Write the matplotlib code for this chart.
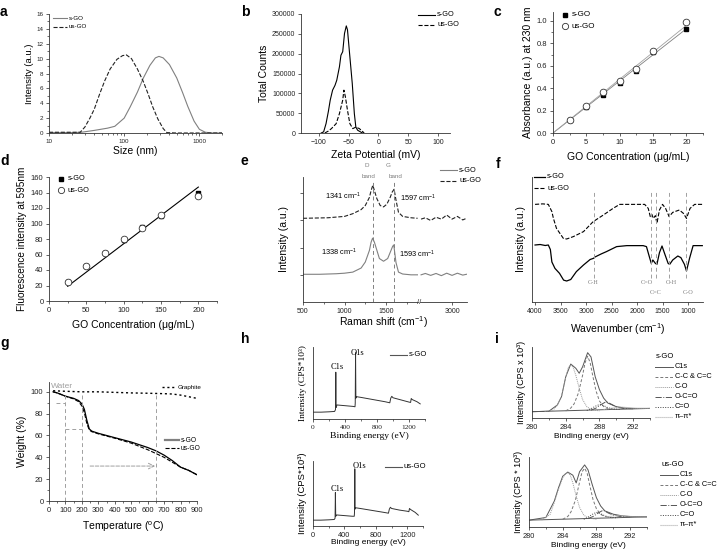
import matplotlib.pyplot as plt
from matplotlib.lines import Line2D
from matplotlib.ticker import AutoMinorLocator, NullFormatter, NullLocator

plt.rcParams['font.family'] = ['Liberation Sans', 'DejaVu Sans']
plt.rcParams['mathtext.fontset'] = 'custom'
plt.rcParams['mathtext.rm'] = 'Liberation Sans'
plt.rcParams['mathtext.it'] = 'Liberation Sans:italic'
plt.rcParams['mathtext.bf'] = 'Liberation Sans:bold'

# ---------------- data ----------------
# a: DLS size distribution
a_size_s = [10, 20, 27, 40, 60, 75, 100, 120, 150, 180, 220, 260, 290, 330, 400, 500, 600, 700, 850, 1000, 1200, 1500, 2000]
a_int_s = [0.05, 0.05, 0.1, 0.35, 0.65, 0.9, 2.0, 3.5, 5.5, 7.4, 9.1, 10.1, 10.3, 10.1, 9.2, 7.4, 5.4, 3.6, 1.6, 0.5, 0.1, 0.0, 0.0]
a_size_us = [10, 20, 26, 30, 35, 40, 47, 55, 65, 80, 95, 107, 125, 150, 180, 209, 240, 280, 330, 370, 500, 2000]
a_int_us = [0.1, 0.1, 0.1, 0.8, 2.0, 3.2, 5.2, 7.0, 8.6, 9.9, 10.4, 10.5, 10.0, 8.6, 6.9, 5.2, 3.5, 1.9, 0.6, 0.05, 0.0, 0.0]

# b: zeta potential
b_mv_s = [-96, -92, -88, -84, -81, -77, -73, -70, -65.5, -63, -60, -57, -54, -52, -49, -44, -40.5, -38, -35, -27]
b_cnt_s = [0, 3000, 23600, 55000, 82600, 108000, 120000, 133000, 167000, 196000, 205000, 251000, 270000, 260000, 209000, 125000, 49000, 15000, 7000, 0]
b_mv_us = [-90, -84, -79, -71, -65.5, -60, -58, -55.5, -52, -48, -43, -38, -32, -24]
b_cnt_us = [0, 5000, 11000, 23600, 49000, 83000, 108000, 91000, 57000, 23600, 11000, 15000, 11000, 0]

# c: absorbance at 230 nm
c_conc = [2.5, 5, 7.5, 10, 12.5, 15, 20]
c_abs_s = [0.12, 0.23, 0.34, 0.45, 0.55, 0.72, 0.93]
c_abs_us = [0.12, 0.24, 0.37, 0.46, 0.57, 0.73, 0.99]
c_fit_x = [0, 20]
c_fit_s = [0, 0.93]
c_fit_us = [0, 0.96]

# d: fluorescence at 595 nm
d_conc = [25, 50, 75, 100, 125, 150, 200]
d_fl_s = [24, 45, 62, 79, 96, 110, 139]
d_fl_us = [24.5, 45.5, 62.5, 79.5, 94, 111.5, 135]
d_fit_x = [25, 200]
d_fit_y = [19, 147]

# e: Raman (broken axis)
e_x1 = [500, 700, 900, 1000, 1100, 1200, 1250, 1300, 1320, 1338, 1360, 1380, 1420, 1470, 1520, 1560, 1580, 1593, 1620, 1650, 1700, 1800, 1880]
e_s1 = [1.02, 1.02, 1.04, 1.06, 1.1, 1.25, 1.47, 1.9, 2.2, 2.35, 2.2, 2.0, 1.6, 1.5, 1.6, 1.9, 2.05, 2.1, 1.45, 1.1, 1.03, 1.0, 1.0]
e_x1u = [500, 800, 1000, 1100, 1200, 1250, 1300, 1320, 1341, 1360, 1390, 1430, 1470, 1510, 1550, 1575, 1597, 1620, 1650, 1700, 1800, 1880]
e_us1 = [3.08, 3.1, 3.15, 3.25, 3.4, 3.55, 3.85, 4.1, 4.3, 4.1, 3.8, 3.55, 3.5, 3.6, 3.85, 4.05, 4.15, 3.75, 3.3, 3.15, 3.1, 3.08]
e_x2 = [2420, 2500, 2600, 2700, 2800, 2900, 3000, 3100, 3200, 3270]
e_s2 = [1.0, 1.05, 0.98, 1.05, 0.97, 1.06, 0.98, 1.06, 0.99, 1.02]
e_us2 = [3.05, 3.1, 3.0, 3.12, 3.05, 3.2, 3.05, 3.15, 3.02, 3.08]
e_bands = [1341, 1597]

# f: FTIR
f_wn_s = [4000, 3900, 3800, 3740, 3700, 3670, 3610, 3520, 3440, 3380, 3300, 3190, 3050, 2920, 2850, 2825, 2700, 2600, 2400, 2200, 2000, 1880, 1815, 1750, 1720, 1690, 1640, 1610, 1560, 1510, 1460, 1390, 1360, 1300, 1200, 1140, 1070, 1030, 970, 900, 800, 720]
f_t_s = [4.56, 4.6, 4.52, 4.56, 4.2, 3.2, 2.69, 2.29, 1.75, 1.68, 1.8, 2.43, 2.96, 3.4, 3.5, 3.6, 3.85, 4.03, 4.43, 4.51, 4.51, 4.51, 4.43, 3.5, 3.09, 3.36, 3.09, 3.01, 3.95, 4.48, 3.89, 3.09, 3.01, 3.36, 3.68, 3.55, 3.01, 2.48, 3.49, 4.51, 4.51, 4.51]
f_wn_us = [4000, 3850, 3740, 3670, 3640, 3580, 3445, 3380, 3250, 3050, 2860, 2660, 2470, 2340, 2100, 1850, 1780, 1740, 1710, 1680, 1640, 1610, 1560, 1500, 1440, 1370, 1300, 1170, 1090, 1030, 960, 870, 720]
f_t_us = [7.81, 7.85, 7.81, 7.23, 6.69, 5.89, 5.09, 5.04, 5.23, 5.63, 6.43, 6.96, 7.49, 7.81, 7.81, 7.81, 7.49, 6.83, 7.01, 6.69, 6.91, 6.29, 7.36, 7.81, 7.49, 6.83, 7.17, 7.36, 7.09, 6.69, 7.49, 7.81, 7.81]
f_groups = ['C-H', 'C=O', 'C=C', 'O-H', 'C-O']
f_group_wn = [2850, 1730, 1625, 1375, 1040]

# g: TGA
g_temp = [25, 50, 100, 150, 180, 200, 215, 230, 245, 260, 300, 400, 500, 600, 650, 700, 750, 800, 850, 900]
g_w_s = [100, 99, 96, 94, 92, 89, 84, 74, 66, 64, 62, 58, 54, 49, 46, 42, 37, 31, 28, 24]
g_w_us = [100, 99, 96, 93.5, 91, 87, 81, 71, 65, 63.5, 61.5, 57.5, 53, 47, 43.5, 40, 35.5, 31, 28, 24]
g_temp_gr = [25, 100, 200, 300, 400, 500, 600, 650, 700, 750, 800, 850, 900]
g_w_gr = [101, 100.5, 100, 100, 99.5, 99, 98.7, 98.5, 98.3, 98, 97, 95.5, 94]

# h: XPS survey
h_be = [0, 100, 200, 270, 281, 285, 289, 300, 400, 500, 525, 528, 532, 536, 545, 600, 700, 800, 900, 960, 972, 985, 1000, 1100, 1200, 1220, 1228, 1240, 1300, 1340]
h_cps_s = [0.95, 0.95, 1.0, 1.05, 1.3, 6.5, 1.6, 1.95, 1.85, 1.75, 1.7, 2.2, 9.2, 2.9, 3.1, 3.0, 2.8, 2.6, 2.4, 2.25, 2.9, 3.15, 2.95, 2.65, 2.35, 2.3, 2.85, 2.7, 2.4, 2.1]
h_cps_us = [0.9, 0.9, 0.95, 1.0, 1.2, 5.15, 1.5, 1.7, 1.6, 1.5, 1.5, 2.0, 8.8, 2.6, 2.8, 2.7, 2.5, 2.3, 2.1, 1.97, 2.6, 2.88, 2.7, 2.45, 2.27, 2.2, 2.7, 2.55, 2.1, 1.67]

# i: XPS C1s deconvolution
i_env_x = [280, 282, 283, 283.5, 284, 284.6, 285.2, 285.6, 286, 286.6, 287, 287.5, 288, 288.5, 289, 290, 291, 292, 294]
i_env_s = [0.89, 0.95, 1.83, 3.0, 5.8, 7.6, 7.0, 6.3, 7.2, 9.2, 8.6, 5.8, 4.0, 2.8, 2.1, 1.6, 1.4, 1.35, 1.35]
i_env_us = [0.98, 1.36, 3.7, 5.6, 7.25, 7.85, 7.4, 6.3, 7.9, 8.87, 8.17, 6.06, 4.18, 3.0, 2.3, 1.83, 1.6, 1.5, 1.45]
i_bg_x = [280, 294]
i_bg_s = [0.89, 1.35]
i_bg_us = [0.98, 1.45]
i_c1_x = [281.5, 282.5, 283, 283.5, 284, 284.3, 284.6, 284.9, 285.2, 285.6, 286, 286.5, 287, 288]
i_c1_s = [0.9, 1.1, 1.8, 3.0, 5.7, 7.1, 7.5, 7.1, 6.0, 4.2, 2.6, 1.6, 1.2, 1.0]
i_c1_us = [1.0, 1.8, 3.5, 5.4, 7.0, 7.6, 7.75, 7.4, 6.3, 4.4, 2.8, 1.7, 1.3, 1.1]
i_c2_x = [284, 284.6, 285, 285.5, 286, 286.3, 286.6, 286.9, 287.2, 287.6, 288, 288.5, 289, 290]
i_c2_s = [1.0, 1.4, 2.0, 3.5, 6.0, 7.8, 8.7, 7.8, 6.0, 3.8, 2.4, 1.6, 1.3, 1.2]
i_c2_us = [1.1, 1.5, 2.2, 3.8, 6.4, 7.9, 8.4, 7.7, 6.0, 3.9, 2.6, 1.8, 1.5, 1.3]
i_co_x = [286.5, 287, 287.5, 288, 288.5, 289, 289.5, 290.5]
i_co_s = [1.05, 1.3, 1.65, 1.9, 1.75, 1.45, 1.3, 1.2]
i_co_us = [1.1, 1.4, 1.8, 2.1, 1.9, 1.6, 1.4, 1.3]
i_occ_x = [287, 287.6, 288.2, 288.8, 289.4, 290, 290.8, 292]
i_occ_s = [1.1, 1.4, 1.9, 2.3, 1.95, 1.55, 1.35, 1.3]
i_occ_us = [1.2, 1.5, 2.0, 2.4, 2.0, 1.7, 1.5, 1.45]
i_pi_x = [288.5, 289.5, 290.5, 291.5, 292.5, 294]
i_pi_s = [1.2, 1.4, 1.55, 1.45, 1.35, 1.35]
i_pi_us = [1.3, 1.5, 1.65, 1.55, 1.47, 1.45]

# ---------------- layout helpers (pixel coordinates) ----------------
W, H = 722, 550
fig = plt.figure(figsize=(7.22, 5.5), dpi=100)
GREY = '#808080'
LGREY = '#a0a0a0'
DARK = '#222222'
SERIF = 'Liberation Serif'


def add_ax(l, t, r, b):
    return fig.add_axes([l / W, 1 - b / H, (r - l) / W, (b - t) / H])


def ftext(x, y, s, **kw):
    kw.setdefault('va', 'center')
    fig.text(x / W, 1 - y / H, s, **kw)


def setup(ax, fs=5):
    for s in ('top', 'right'):
        ax.spines[s].set_visible(False)
    for s in ('left', 'bottom'):
        ax.spines[s].set_linewidth(0.6)
        ax.spines[s].set_color('#333333')
    ax.tick_params(direction='out', length=2.5, width=0.5, labelsize=fs, pad=1.5, colors='#222222')
    ax.tick_params(which='minor', length=1.5, width=0.4)
    ax.patch.set_alpha(0)


def legend(x0, y0, dy, entries, length=16, fs=5, family=None):
    for k, (label, kw) in enumerate(entries):
        y = 1 - (y0 + k * dy) / H
        if kw.get('marker'):
            fig.add_artist(Line2D([(x0 + length / 2) / W], [y], linestyle='none', **kw))
        else:
            fig.add_artist(Line2D([x0 / W, (x0 + length) / W], [y, y], **kw))
        fig.text((x0 + length + 2) / W, y, label, fontsize=fs, va='center', family=family)


def letter(x, y, s):
    ftext(x, y, s, fontsize=10, fontweight='bold')


# ---------------- a ----------------
ax = add_ax(49, 14, 222, 133)
setup(ax, 4.5)
ax.plot(a_size_s, a_int_s, color=GREY, lw=0.8)
ax.plot(a_size_us, a_int_us, color=DARK, lw=0.8, ls='--')
ax.set_xscale('log')
ax.set_xlim(10, 2000)
ax.set_ylim(0, 16)
ax.set_yticks(range(0, 17, 2))
ax.set_xticks([10, 100, 1000])
ax.set_xticklabels(['10', '100', '1000'])
ax.yaxis.set_minor_locator(AutoMinorLocator(2))
ax.set_xlabel('Size (nm)', fontsize=7.5, labelpad=2)
ax.set_ylabel('Intensity (a.u.)', fontsize=6.8, labelpad=2)
legend(53, 18, 9, [('s-GO', dict(color=GREY, lw=0.8)), ('us-GO', dict(color=DARK, lw=0.8, ls='--'))], length=14, fs=4.5)
letter(0, 12, 'a')

# ---------------- b ----------------
ax = add_ax(301, 14, 450, 133)
setup(ax, 5)
ax.plot(b_mv_s, b_cnt_s, color='black', lw=0.8)
ax.plot(b_mv_us, b_cnt_us, color='black', lw=0.8, ls='--')
ax.set_xlim(-130, 120)
ax.set_ylim(0, 300000)
ax.set_xticks([-100, -50, 0, 50, 100])
ax.set_yticks(range(0, 300001, 50000))
ax.set_xlabel('Zeta Potential (mV)', fontsize=7.5, labelpad=3.5)
ax.set_ylabel('Total Counts', fontsize=7.5, labelpad=2)
legend(418, 15, 10, [('s-GO', dict(color='black', lw=0.8)), ('us-GO', dict(color='black', lw=0.8, ls='--'))], length=17, fs=5.3)
letter(241, 12, 'b')

# ---------------- c ----------------
ax = add_ax(553, 12, 703, 133)
setup(ax, 5.5)
ax.plot(c_fit_x, c_fit_s, color=GREY, lw=0.6)
ax.plot(c_fit_x, c_fit_us, color=LGREY, lw=0.6)
ax.plot(c_conc, c_abs_s, 's', color='black', ms=3.5)
ax.plot(c_conc, c_abs_us, 'o', mfc='white', mec='#333333', mew=0.6, ms=4.8)
ax.set_xlim(0, 22.5)
ax.set_ylim(0, 1.08)
ax.set_xticks([0, 5, 10, 15, 20])
ax.set_yticks([0, 0.2, 0.4, 0.6, 0.8, 1.0])
ax.xaxis.set_minor_locator(AutoMinorLocator(2))
ax.yaxis.set_minor_locator(AutoMinorLocator(2))
ax.set_xlabel('GO Concentration (\u03bcg/mL)', fontsize=7.5, labelpad=5)
ax.set_ylabel('Absorbance (a.u.) at 230 nm', fontsize=7.5, labelpad=3)
legend(560, 15, 11, [('s-GO', dict(marker='s', color='black', ms=3.5)),
                     ('us-GO', dict(marker='o', mfc='white', mec='#333333', mew=0.6, ms=4.5))], length=10, fs=5.8)
letter(494, 12, 'c')

# ---------------- d ----------------
ax = add_ax(49, 177, 217, 301)
setup(ax, 5.5)
ax.plot(d_fit_x, d_fit_y, color='black', lw=0.8)
ax.plot(d_conc, d_fl_s, 's', color='black', ms=3.5)
ax.plot(d_conc, d_fl_us, 'o', mfc='white', mec='#333333', mew=0.6, ms=4.8)
ax.set_xlim(0, 225)
ax.set_ylim(0, 160)
ax.set_xticks([0, 50, 100, 150, 200])
ax.set_yticks(range(0, 161, 20))
ax.xaxis.set_minor_locator(AutoMinorLocator(2))
ax.set_xlabel('GO Concentration (\u03bcg/mL)', fontsize=7.5, labelpad=5)
ax.set_ylabel('Fluorescence intensity at 595nm', fontsize=7.2, labelpad=3)
legend(56, 179, 11, [('s-GO', dict(marker='s', color='black', ms=3.5)),
                     ('us-GO', dict(marker='o', mfc='white', mec='#333333', mew=0.6, ms=4.5))], length=10, fs=5.3)
letter(0, 161, 'd')

# ---------------- e (broken x axis) ----------------
ax = add_ax(303, 177, 418, 302)
ax2 = add_ax(420, 177, 467, 302)
setup(ax, 5)
setup(ax2, 5)
ax2.spines['left'].set_visible(False)
ax2.yaxis.set_major_locator(NullLocator())
for a_ in (ax, ax2):
    a_.set_ylim(0, 4.6)
ax.plot(e_x1, e_s1, color=GREY, lw=0.8)
ax.plot(e_x1u, e_us1, color=DARK, lw=0.8, ls='--')
ax2.plot(e_x2, e_s2, color=GREY, lw=0.8)
ax2.plot(e_x2, e_us2, color=DARK, lw=0.8, ls='--')
for wn in e_bands:
    ax.plot([wn, wn], [0, 4.45], color=GREY, lw=0.7, ls=(0, (4, 3)))
ax.set_xlim(500, 1885)
ax2.set_xlim(2400, 3280)
ax.set_xticks([500, 1000, 1500])
ax2.set_xticks([3000])
ax.xaxis.set_minor_locator(AutoMinorLocator(2))
ax2.xaxis.set_minor_locator(AutoMinorLocator(2))
ax.set_yticks([1, 2, 3, 4])
ax.yaxis.set_major_formatter(NullFormatter())
ax.set_ylabel('Intensity (a.u.)', fontsize=7.5, labelpad=6)
ftext(419, 302, '//', fontsize=5.5, ha='center', color='#333333')
ftext(384, 322, 'Raman shift (cm$^{-1}$)', fontsize=7.5, ha='center')
ftext(367, 166, 'D', fontsize=4.5, ha='center', color=GREY)
ftext(369, 177, 'band', fontsize=4.5, ha='center', color=GREY)
ftext(388, 166, 'G', fontsize=4.5, ha='center', color=GREY)
ftext(396, 177, 'band', fontsize=4.5, ha='center', color=GREY)
ftext(343, 196, '1341 cm$^{-1}$', fontsize=5.3, ha='center')
ftext(418, 198, '1597 cm$^{-1}$', fontsize=5.3, ha='center')
ftext(339, 252, '1338 cm$^{-1}$', fontsize=5.3, ha='center')
ftext(417, 254, '1593 cm$^{-1}$', fontsize=5.3, ha='center')
legend(440, 170, 11, [('s-GO', dict(color=GREY, lw=0.8)), ('us-GO', dict(color=DARK, lw=0.8, ls='--'))], length=17, fs=5.3)
letter(241, 161, 'e')

# ---------------- f ----------------
ax = add_ax(532, 177, 703, 302)
setup(ax, 5)
ax.plot(f_wn_s, f_t_s, color='black', lw=0.9)
ax.plot(f_wn_us, f_t_us, color='black', lw=0.8, ls='--')
for g, wn in zip(f_groups, f_group_wn):
    ax.plot([wn, wn], [1.9, 8.8], color=LGREY, lw=0.7, ls=(0, (4, 3)))
ax.set_xlim(4060, 706)
ax.set_ylim(0, 10)
ax.set_xticks([4000, 3500, 3000, 2500, 2000, 1500, 1000])
ax.yaxis.set_major_locator(NullLocator())
ax.set_xlabel('Wavenumber (cm$^{-1}$)', fontsize=7.5, labelpad=5)
ax.set_ylabel('Intensity (a.u.)', fontsize=7.5, labelpad=4)
ftext(593, 282, 'C-H', fontsize=4.5, ha='center', color=GREY, family=SERIF)
ftext(647, 282, 'C=O', fontsize=4.5, ha='center', color=GREY, family=SERIF)
ftext(656, 292, 'C=C', fontsize=4.5, ha='center', color=GREY, family=SERIF)
ftext(671, 282, 'O-H', fontsize=4.5, ha='center', color=GREY, family=SERIF)
ftext(688, 292, 'C-O', fontsize=4.5, ha='center', color=GREY, family=SERIF)
legend(534, 177, 11, [('s-GO', dict(color='black', lw=0.9)), ('us-GO', dict(color='black', lw=0.8, ls='--'))], length=11, fs=5.3)
letter(496, 164, 'f')

# ---------------- g ----------------
ax = add_ax(49, 382, 197, 501)
setup(ax, 5.5)
ax.plot(g_temp, g_w_s, color='black', lw=0.9)
ax.plot(g_temp, g_w_us, color='black', lw=0.8, ls='--')
ax.plot(g_temp_gr, g_w_gr, color='black', lw=1.0, ls=(0, (1.5, 2)))
for t in (100, 200, 650):
    ax.plot([t, t], [0, 100], color=LGREY, lw=0.7, ls=(0, (4, 3)))
ax.plot([40, 100], [90, 90], color=LGREY, lw=0.7, ls=(0, (4, 3)))
ax.plot([100, 200], [66, 66], color=LGREY, lw=0.7, ls=(0, (4, 3)))
ax.annotate('', xy=(645, 32), xytext=(250, 32),
            arrowprops=dict(arrowstyle='->', color=LGREY, lw=0.7, ls='--', shrinkA=0, shrinkB=0))
ax.text(15, 105, 'Water', fontsize=6, color=LGREY, va='center')
ax.set_xlim(0, 900)
ax.set_ylim(0, 109)
ax.set_xticks(range(0, 901, 100))
ax.set_yticks(range(0, 101, 20))
ax.yaxis.set_minor_locator(AutoMinorLocator(2))
ax.xaxis.set_minor_locator(AutoMinorLocator(2))
ax.set_xlabel('Temperature ($^{\\mathrm{o}}$C)', fontsize=7.5, labelpad=4)
ax.set_ylabel('Weight (%)', fontsize=7.5, labelpad=3)
legend(162, 387, 9, [('Graphite', dict(color='black', lw=1.0, ls=(0, (1.5, 2))))], length=14, fs=4.5)
legend(165, 440, 8, [('s-GO', dict(color=GREY, lw=1.6)), ('us-GO', dict(color='black', lw=0.8, ls='--'))], length=14, fs=4.8)
letter(0, 343, 'g')

# ---------------- h ----------------
for (t, b, r, ys, name, ly, fam, lab_c, lab_o) in (
        (347, 419, 425, h_cps_s, 's-GO', 355, SERIF, (337, 367), (357, 353)),
        (461, 526, 423, h_cps_us, 'us-GO', 467, None, (337, 489), (359, 466))):
    ax = add_ax(313, t, r, b)
    setup(ax, 5.3)
    ax.plot(h_be, ys, color='#333333', lw=0.7)
    ax.set_xlim(0, 1400)
    ax.set_ylim(0, 10)
    ax.set_xticks([0, 400, 800, 1200])
    ax.xaxis.set_minor_locator(AutoMinorLocator(2))
    ax.yaxis.set_major_locator(NullLocator())
    fkw = dict(family=fam) if fam else {}
    ax.set_xlabel('Binding energy (eV)', fontsize=6.8 if fam else 6.0, labelpad=2 if fam else 0.5, **fkw)
    ax.set_ylabel('Intensity (CPS*10\u00b3)', fontsize=6.8, labelpad=4, **fkw)
    if fam:
        for lbl in ax.get_xticklabels():
            lbl.set_fontfamily(fam)
    ftext(lab_c[0], lab_c[1], 'C1s', fontsize=6, ha='center', family=SERIF)
    ftext(lab_o[0], lab_o[1], 'O1s', fontsize=6, ha='center', family=SERIF)
    legend(390 if fam else 385, ly, 10, [(name, dict(color='#555555', lw=0.8))], length=17, fs=5.5)
letter(241, 339, 'h')

# ---------------- i ----------------
i_sets = (
    (532, 347, 650, 418, i_env_s, i_bg_s, i_c1_s, i_c2_s, i_co_s, i_occ_s, i_pi_s,
     'Intensity (CPS x 10\u00b3)', 's-GO', 655, 357),
    (529, 457, 647, 527, i_env_us, i_bg_us, i_c1_us, i_c2_us, i_co_us, i_occ_us, i_pi_us,
     'Intensity (CPS * 10\u00b3)', 'us-GO', 660, 465),
)
st_env = dict(color='#555555', lw=0.7)
st_cc = dict(color='#777777', lw=0.7, ls=(0, (3, 2)))
st_co = dict(color='#9a9a9a', lw=0.7, ls=(0, (1, 1)))
st_occ = dict(color='#555555', lw=0.7, ls='-.')
st_c_o = dict(color='#444444', lw=0.7, ls=(0, (1, 1.5)))
st_pi = dict(color='#b0b0b0', lw=0.8, ls=(0, (1, 0.8)))
for (l, t, r, b, env, bg, c1, c2, co, occ, pi, ylab, name, lx, ly) in i_sets:
    ax = add_ax(l, t, r, b)
    setup(ax, 5.3)
    ax.plot(i_env_x, env, **st_env)
    ax.plot(i_bg_x, bg, **st_env)
    ax.plot(i_c1_x, c1, **st_co)
    ax.plot(i_c2_x, c2, **st_cc)
    ax.plot(i_occ_x, occ, **st_occ)
    ax.plot(i_co_x, co, **st_c_o)
    ax.plot(i_pi_x, pi, **st_pi)
    ax.set_xlim(280, 294)
    ax.set_ylim(0, 10)
    ax.set_xticks([280, 284, 288, 292])
    ax.xaxis.set_minor_locator(AutoMinorLocator(2))
    ax.yaxis.set_major_locator(NullLocator())
    ax.set_xlabel('Binding energy (eV)', fontsize=6, labelpad=1.5)
    ax.set_ylabel(ylab, fontsize=6.5, labelpad=4)
    ftext(lx + 1, ly, name, fontsize=5.5)
    legend(lx, ly + 9.5, 10, [('C1s', st_env), ('C-C & C=C', st_cc), ('C-O', st_co),
                              ('O-C=O', st_occ), ('C=O', st_c_o), ('\u03c0\u2013\u03c0*', st_pi)],
           length=18, fs=5.3)
letter(495, 339, 'i')

fig.savefig('out.png', dpi=100)
